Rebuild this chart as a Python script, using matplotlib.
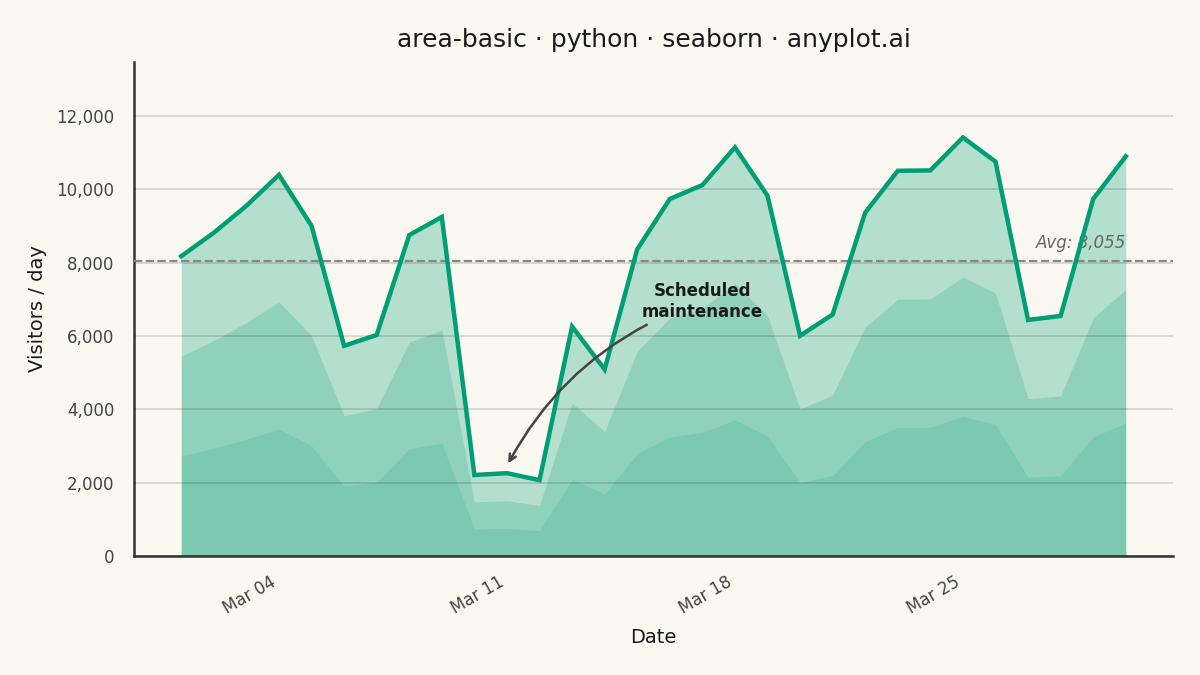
import numpy as np
import pandas as pd
import matplotlib
matplotlib.use("Agg")
import matplotlib.pyplot as plt
import matplotlib.dates as mdates
from matplotlib.ticker import FuncFormatter

plt.rcParams["font.family"] = ["DejaVu Sans"]

# daily visitors, March 2024
dates = pd.date_range("2024-03-01", "2024-03-30", freq="D")
visitors = [
    8180, 8820, 9555, 10400, 9010, 5735, 6030, 8755, 9250, 2210,
    2260, 2070, 6260, 5090, 8370, 9740, 10120, 11150, 9830, 6010,
    6590, 9370, 10510, 10520, 11420, 10760, 6440, 6550, 9740, 10905,
]
note_text = "Scheduled\nmaintenance"
note_date = pd.Timestamp("2024-03-11")
note_pos = pd.Timestamp("2024-03-17")

bg = "#FAF8F1"
green = "#009E73"

df = pd.DataFrame({"date": dates, "visitors": visitors})
avg = df["visitors"].mean()

fig = plt.figure(figsize=(12, 6.75), dpi=100, facecolor=bg)
ax = fig.add_axes([0.1117, 0.1763, 0.8658, 0.7317])
ax.set_facecolor(bg)

v = df["visitors"].to_numpy()
ax.fill_between(df["date"], 0, v, color=green, alpha=0.28, lw=0, zorder=1)
ax.fill_between(df["date"], 0, v * 2 / 3, color=green, alpha=0.20, lw=0, zorder=1)
ax.fill_between(df["date"], 0, v / 3, color=green, alpha=0.15, lw=0, zorder=1)
ax.plot(df["date"], v, color=green, lw=3.2, zorder=4, solid_joinstyle="miter")

ax.axhline(avg, color="#888888", ls="--", lw=1.6, zorder=3)
ax.text(df["date"].iloc[-1], avg + 250, f"Avg: {avg:,.0f}", ha="right", va="bottom",
        fontsize=12, style="italic", color="#666666", zorder=2)

ax.annotate(note_text, xy=(note_date, v[10] + 200), xytext=(note_pos, 6950),
            ha="center", va="center", fontsize=12, fontweight="bold", color="#1a1a1a",
            arrowprops=dict(arrowstyle="->", color="#444444", lw=1.8,
                            connectionstyle="arc3,rad=0.2"), zorder=5)

ax.set_ylim(0, max(v) * 1.18)
ax.yaxis.set_major_formatter(FuncFormatter(lambda x, p: f"{x:,.0f}"))
ax.xaxis.set_major_locator(mdates.WeekdayLocator(byweekday=mdates.MO))
ax.xaxis.set_major_formatter(mdates.DateFormatter("%b %d"))
plt.setp(ax.get_xticklabels(), rotation=30, ha="right")

ax.grid(axis="y", color="black", alpha=0.15, lw=1.2, zorder=2)
ax.set_axisbelow(False)
for s in ["top", "right"]:
    ax.spines[s].set_visible(False)
for s in ["left", "bottom"]:
    ax.spines[s].set_color("#333333")
    ax.spines[s].set_linewidth(1.8)
ax.tick_params(axis="y", length=0, labelsize=12, colors="#444444", pad=14)
ax.tick_params(axis="x", length=0, labelsize=12, colors="#444444", pad=12)

ax.set_xlabel("Date", fontsize=14, color="#1a1a1a", labelpad=8)
ax.set_ylabel("Visitors / day", fontsize=14, color="#1a1a1a", labelpad=7)
ax.set_title("area-basic · python · seaborn · anyplot.ai", fontsize=18, color="#1a1a1a", pad=11)

fig.savefig("out.png", dpi=100, facecolor=bg)
